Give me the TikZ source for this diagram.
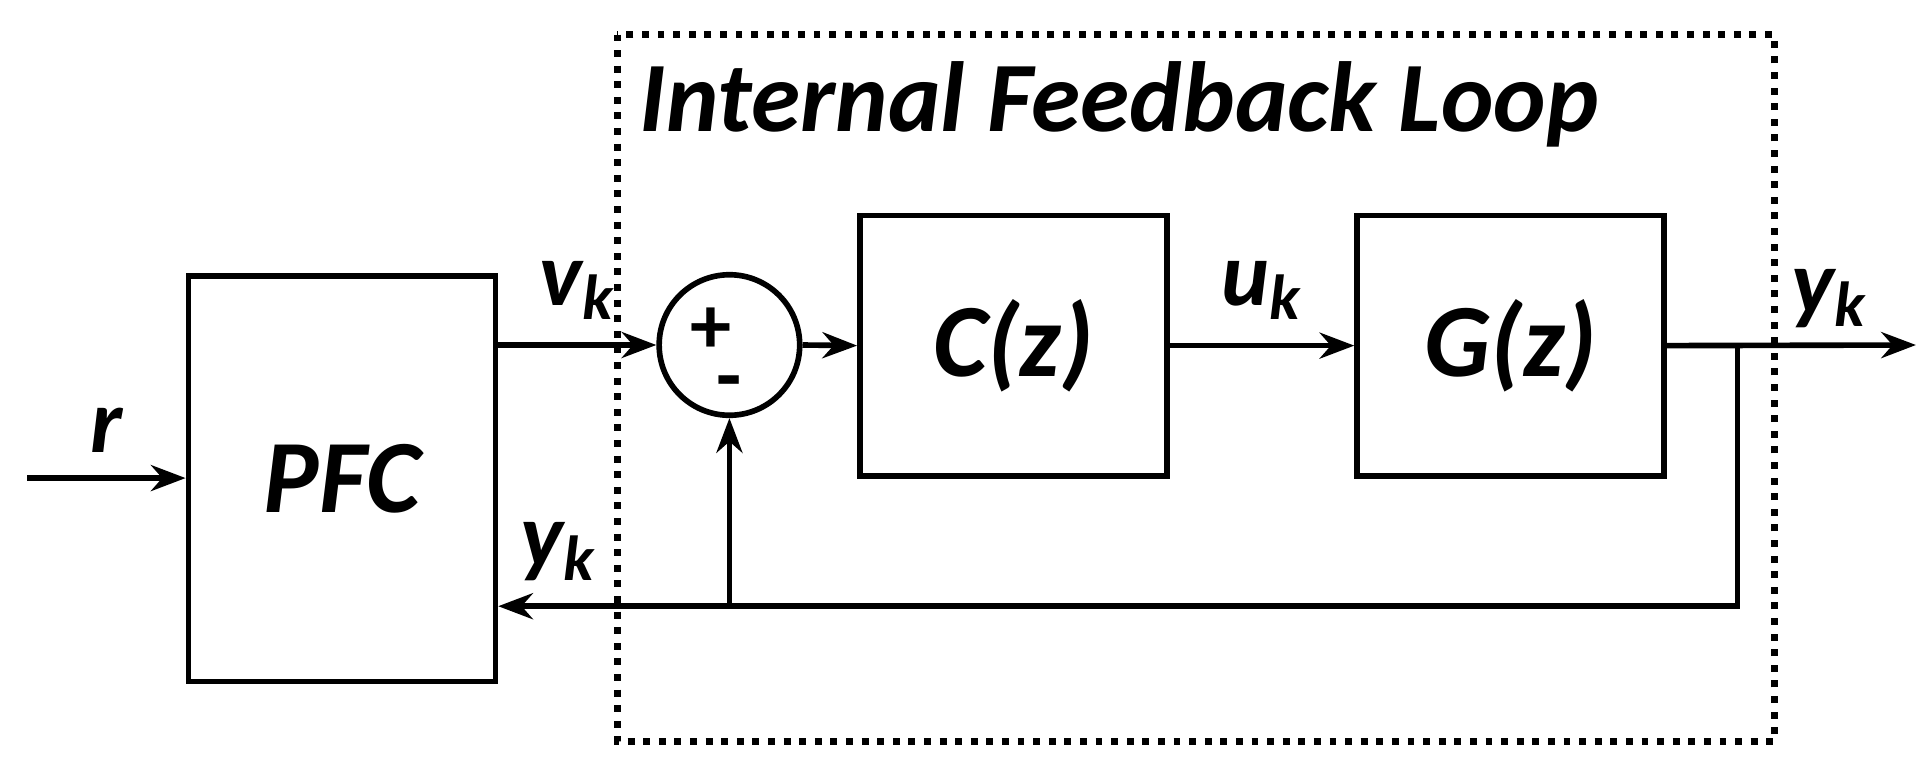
\documentclass[tikz,border=0pt]{standalone}
\usepackage{fontspec}
\setmainfont{Carlito}
\usetikzlibrary{arrows.meta,positioning}
\begin{document}
\begin{tikzpicture}[x=0.01cm, y=-0.01cm, line width=1.3pt,
  block/.style = {draw, minimum width=2.49cm, minimum height=2.11cm, font=\fontsize{24}{28}\selectfont\bfseries\itshape},
  lbl/.style = {font=\fontsize{21}{24}\selectfont\bfseries\itshape},
  sig/.style = {-{Stealth[length=8pt,width=6pt]}}
]
\useasboundingbox (0,0) rectangle (1568,636);
% outer loop frame
\draw[dotted, line width=1.6pt] (501,28) rectangle (1440,602);
\node[anchor=west, font=\fontsize{23}{27}\selectfont\bfseries\itshape] at (505,85) {Internal Feedback Loop};
% blocks
\node[block, minimum height=3.29cm] (pfc) at (277.5,388.5) {PFC};
\node[draw, circle, minimum size=1.14cm] (sum) at (592,280) {};
\node[font=\fontsize{19}{22}\selectfont\bfseries] at (577,268) {+};
\node[font=\fontsize{19}{22}\selectfont\bfseries] at (592,316) {-};
\node[block] (ctrl) at (822.5,280.5) {C(z)};
\node[block] (plant) at (1226,280.5) {G(z)};
% signals
\coordinate (rin) at (22,388);
\coordinate (tap) at (1410,280);
\coordinate (out) at (1555,280);
\coordinate (bot) at (1410,492);
\coordinate (fb) at (592,492);
\draw[sig] (rin) -- node[lbl, above=2pt] {r} (pfc.west |- rin);
\draw[sig] (pfc.east |- sum) -- node[lbl, above=2pt] {v\textsubscript{k}} (sum.west);
\draw[sig] (sum.east) -- (ctrl.west);
\draw[sig] (ctrl.east) -- node[lbl, above=2pt] {u\textsubscript{k}} (plant.west);
\draw[sig] (plant.east) -- (out);
\node[lbl] at (1485,242) {y\textsubscript{k}};
\draw[sig] (tap) -- (bot) -- (pfc.east |- bot);
\draw[sig] (fb) -- (sum.south);
\node[lbl] at (453,448) {y\textsubscript{k}};
\end{tikzpicture}
\end{document}
